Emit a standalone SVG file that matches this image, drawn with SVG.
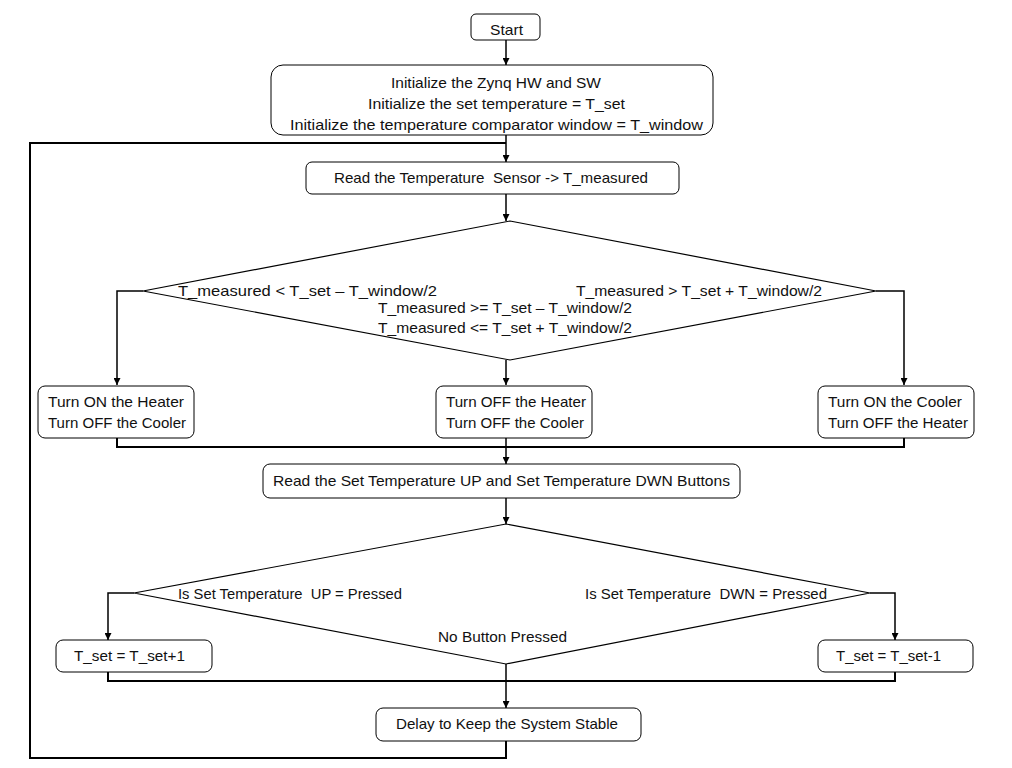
<svg xmlns="http://www.w3.org/2000/svg" width="1012" height="768" viewBox="0 0 1012 768">
<style>
.box{fill:#fff;stroke:#000;stroke-width:1}
.dia{fill:#fff;stroke:#000;stroke-width:1.2}
text{font-family:"Liberation Sans",Arial,sans-serif;font-size:15px;fill:#111;dominant-baseline:central}
.t{text-anchor:middle}
.c{fill:none;stroke:#000;stroke-width:2}
.ca{fill:none;stroke:#000;stroke-width:1.5;marker-end:url(#ah)}
</style>
<defs>
<marker id="ah" viewBox="0 0 10 10" refX="10" refY="5" markerWidth="7" markerHeight="7" markerUnits="userSpaceOnUse" orient="auto"><path d="M0,0 L10,5 L0,10 z" fill="#000"/></marker>
</defs>
<rect width="1012" height="768" fill="#fff"/>
<g id="connectors">
<path class="ca" d="M506,40 V65"/>
<path class="ca" d="M506,135 V162"/>
<path class="c" d="M506,741 V758 H30 V143 H506"/>
<path class="ca" d="M506,194 V221"/>
<path class="ca" d="M143,291 H117 V385"/>
<path class="ca" d="M876,291 H904 V385"/>
<path class="ca" d="M506,360 V385"/>
<path class="c" d="M117,438 V447 H904 V438"/>
<path class="ca" d="M506,438 V464"/>
<path class="ca" d="M506,498 V524"/>
<path class="ca" d="M134,593 H108 V640"/>
<path class="ca" d="M870,593 H895 V640"/>
<path class="c" d="M108,672 V681 H895 V672"/>
<path class="ca" d="M506,664 V708"/>
</g>
<g id="start"><rect class="box" x="471" y="14" width="69" height="26" rx="5"/><text x="490" y="29" textLength="33" lengthAdjust="spacingAndGlyphs">Start</text></g>
<g id="init"><rect class="box" x="271" y="65" width="442" height="70" rx="12"/>
<text x="391" y="82" textLength="210" lengthAdjust="spacingAndGlyphs">Initialize the Zynq HW and SW</text>
<text x="368" y="103" textLength="257" lengthAdjust="spacingAndGlyphs">Initialize the set temperature = T_set</text>
<text x="290" y="124" textLength="413" lengthAdjust="spacingAndGlyphs">Initialize the temperature comparator window = T_window</text></g>
<g id="read-sensor"><rect class="box" x="306" y="162" width="373" height="32" rx="6"/><text x="334" y="177" textLength="314" lengthAdjust="spacingAndGlyphs" xml:space="preserve">Read the Temperature  Sensor -&gt; T_measured</text></g>
<g id="decision1"><polygon class="dia" points="510,221 876,291 510,360 143,291"/>
<text x="178" y="290" textLength="259" lengthAdjust="spacingAndGlyphs">T_measured &lt; T_set – T_window/2</text>
<text x="576" y="290" textLength="246" lengthAdjust="spacingAndGlyphs">T_measured &gt; T_set + T_window/2</text>
<text x="378" y="307" textLength="254" lengthAdjust="spacingAndGlyphs">T_measured &gt;= T_set – T_window/2</text>
<text x="378" y="327" textLength="254" lengthAdjust="spacingAndGlyphs">T_measured &lt;= T_set + T_window/2</text></g>
<g id="heater-on"><rect class="box" x="38" y="386" width="156" height="52" rx="7"/><text x="48" y="401" textLength="136" lengthAdjust="spacingAndGlyphs">Turn ON the Heater</text><text x="48" y="422" textLength="138" lengthAdjust="spacingAndGlyphs">Turn OFF the Cooler</text></g>
<g id="both-off"><rect class="box" x="436" y="386" width="156" height="52" rx="7"/><text x="446" y="401" textLength="140" lengthAdjust="spacingAndGlyphs">Turn OFF the Heater</text><text x="446" y="422" textLength="138" lengthAdjust="spacingAndGlyphs">Turn OFF the Cooler</text></g>
<g id="cooler-on"><rect class="box" x="818" y="386" width="156" height="52" rx="7"/><text x="828" y="401" textLength="134" lengthAdjust="spacingAndGlyphs">Turn ON the Cooler</text><text x="828" y="422" textLength="140" lengthAdjust="spacingAndGlyphs">Turn OFF the Heater</text></g>
<g id="read-buttons"><rect class="box" x="263" y="464" width="477" height="34" rx="7"/><text x="273" y="480" textLength="457" lengthAdjust="spacingAndGlyphs">Read the Set Temperature UP and Set Temperature DWN Buttons</text></g>
<g id="decision2"><polygon class="dia" points="506,524 870,593 506,664 134,593"/>
<text x="178" y="593" textLength="224" lengthAdjust="spacingAndGlyphs" xml:space="preserve">Is Set Temperature  UP = Pressed</text>
<text x="585" y="593" textLength="242" lengthAdjust="spacingAndGlyphs" xml:space="preserve">Is Set Temperature  DWN = Pressed</text>
<text x="438" y="636" textLength="129" lengthAdjust="spacingAndGlyphs">No Button Pressed</text></g>
<g id="tset-up"><rect class="box" x="56" y="640" width="156" height="32" rx="7"/><text x="74" y="655" textLength="111" lengthAdjust="spacingAndGlyphs">T_set = T_set+1</text></g>
<g id="tset-down"><rect class="box" x="818" y="640" width="155" height="32" rx="7"/><text x="836" y="655" textLength="105" lengthAdjust="spacingAndGlyphs">T_set = T_set-1</text></g>
<g id="delay"><rect class="box" x="376" y="708" width="265" height="33" rx="7"/><text x="396" y="723" textLength="222" lengthAdjust="spacingAndGlyphs">Delay to Keep the System Stable</text></g>
</svg>
